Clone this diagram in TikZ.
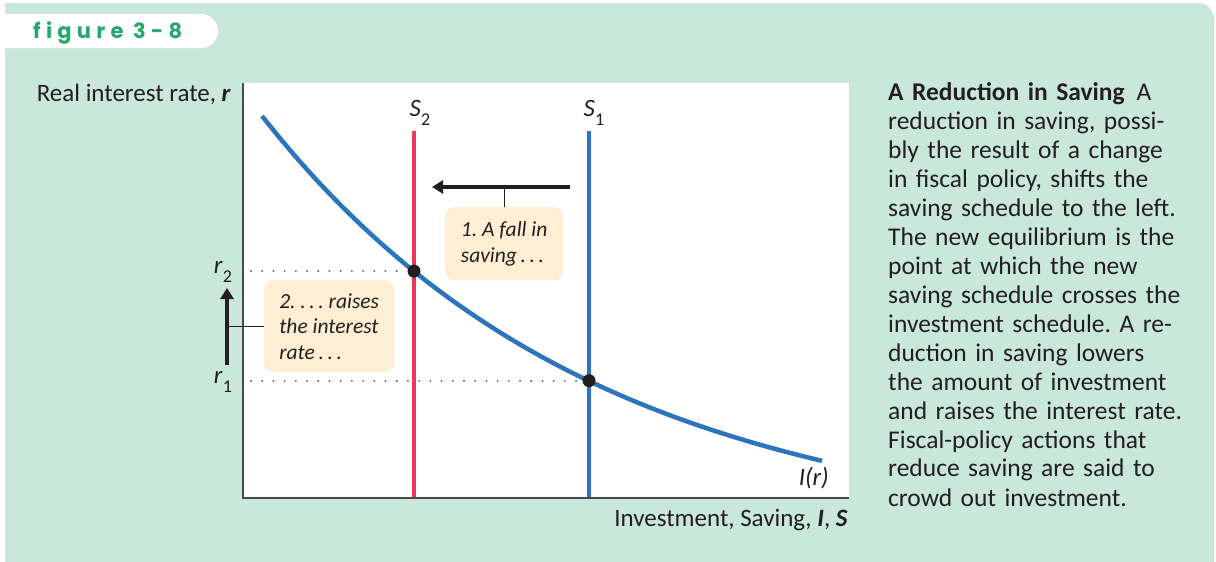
\documentclass[tikz,border=0pt]{standalone}
\usepackage{fontspec}
\setmainfont{Carlito}
\newfontfamily\tabfont[LetterSpace=25,Ligatures=NoCommon]{Poppins}
\usetikzlibrary{arrows.meta}
\frenchspacing

\definecolor{panelgreen}{RGB}{201,231,219}
\definecolor{tabgreen}{RGB}{38,168,108}
\definecolor{curveblue}{RGB}{44,117,190}
\definecolor{shiftred}{RGB}{232,56,92}
\definecolor{boxcream}{RGB}{253,238,212}
\definecolor{inkdark}{RGB}{35,31,32}
\definecolor{axisgray}{RGB}{75,75,75}
\definecolor{dotgray}{RGB}{95,95,95}

% subscripted italic symbol, set in text fonts
\newcommand\symsub[2]{\textit{#1}\kern0.3pt\raisebox{-0.38em}{\fontsize{18}{18}\selectfont #2}}

\begin{document}
\begin{tikzpicture}[x=1pt,y=-1pt,
  axisline/.style={draw=axisgray,line width=1.5pt},
  incurve/.style={draw=curveblue,line width=4.5pt},
  sline/.style={line width=4pt},
  dotline/.style={draw=dotgray,line width=2.2pt,line cap=round,dash pattern=on 0.01pt off 11.2pt},
  eqdot/.style={circle,fill=inkdark,minimum size=13pt,inner sep=0pt},
  bigarrow/.style={draw=inkdark,line width=4.5pt,-{Triangle[length=11pt,width=13pt]}},
  lead/.style={draw=inkdark,line width=1.4pt},
  callout/.style={fill=boxcream,rounded corners=10pt,anchor=north west,align=left,
    inner sep=0pt,text=inkdark,
    font=\itshape\fontsize{21.5}{25.5}\selectfont},
  lbl/.style={text=inkdark,inner sep=0pt,font=\fontsize{25}{28}\selectfont}
]
\useasboundingbox (0,0) rectangle (1216,562);
\clip (0,0) rectangle (1216,562);

% panel with a rounded upper right corner
\fill[panelgreen,rounded corners=16pt] (5,3) rectangle (1214,620);
\fill[panelgreen] (5,3) rectangle (100,100);

% figure tab
\fill[white,rounded corners=17pt] (-40,14) rectangle (218,48);
\node[anchor=base west,inner sep=0pt,text=tabgreen,
  font=\tabfont\bfseries\fontsize{21}{21}\selectfont] (tab) at (33,38) {figure 3-8};

% plotting area and axes
\fill[white] (243,83) rectangle (849,498);
\coordinate (ytop) at (243,83);
\coordinate (orig) at (243,498);
\coordinate (xend) at (849,498);
\draw[axisline] (ytop) -- (orig) -- (xend);

\node[lbl,anchor=base east] (ylab) at (231,101) {Real interest rate, \textbf{\textit{r}}};
\node[lbl,anchor=base east] (xlab) at (848,526) {Investment, Saving, \textbf{\textit{I}}, \textbf{\textit{S}}};

% saving schedules
\coordinate (s2top) at (414,131);
\coordinate (s2bot) at (414,497);
\coordinate (s1top) at (589,131);
\coordinate (s1bot) at (589,497);
\draw[sline,shiftred] (s2top) -- (s2bot);
\draw[sline,curveblue] (s1top) -- (s1bot);
\node[lbl,anchor=base] (s2lab) at (420,116) {\symsub{S}{2}};
\node[lbl,anchor=base] (s1lab) at (594,116) {\symsub{S}{1}};

% investment schedule
\draw[incurve] plot[domain=262:822,samples=80]
  (\x,{539.5-423.5*exp(-0.003*(\x-262))});
\node[lbl,anchor=base east,font=\itshape\fontsize{25}{28}\selectfont] (ilab) at (829,485) {I(r)};

% equilibria and interest-rate guides
\coordinate (r2s) at (251,271.1);
\coordinate (r1s) at (251,380.7);
\node[eqdot] (e2) at (414,271.1) {};
\node[eqdot] (e1) at (589,380.7) {};
\draw[dotline] (r2s) -- (e2.west);
\draw[dotline] (r1s) -- (e1.west);
\node[lbl,anchor=base] (r2lab) at (223,273) {\symsub{r}{2}};
\node[lbl,anchor=base] (r1lab) at (223,383) {\symsub{r}{1}};

% shift of the saving schedule
\coordinate (hfrom) at (570,187);
\coordinate (hto) at (432,187);
\draw[bigarrow] (hfrom) -- (hto);
\node[callout,minimum width=118pt,minimum height=73pt] (b1) at (445,207)
  {1. A fall in\\saving\,.\,.\,.};
\draw[lead] (b1.north) -- (b1.north |- hfrom);

% rise of the interest rate
\coordinate (vfrom) at (227,365);
\coordinate (vto) at (227,288);
\draw[bigarrow] (vfrom) -- (vto);
\node[callout,minimum width=130pt,minimum height=92pt] (b2) at (264,280)
  {2.\ .\,.\,. raises\\the interest\\rate\,.\,.\,.};
\draw[lead] (b2.west) -- (b2.west -| vfrom);

% caption
\node[anchor=base west,inner sep=0pt,text width=330pt,align=left,text=inkdark,
  font=\fontsize{25.5}{29}\selectfont] (caption) at (888,100)
{\textbf{A Reduction in Saving}\hskip 12pt A\\
reduction in saving, possi-\\
bly the result of a change\\
in fiscal policy, shifts the\\
saving schedule to the left.\\
The new equilibrium is the\\
point at which the new\\
saving schedule crosses the\\
investment schedule. A re-\\
duction in saving lowers\\
the amount of investment\\
and raises the interest rate.\\
Fiscal-policy actions that\\
reduce saving are said to\\
crowd out investment.};
\end{tikzpicture}
\end{document}
